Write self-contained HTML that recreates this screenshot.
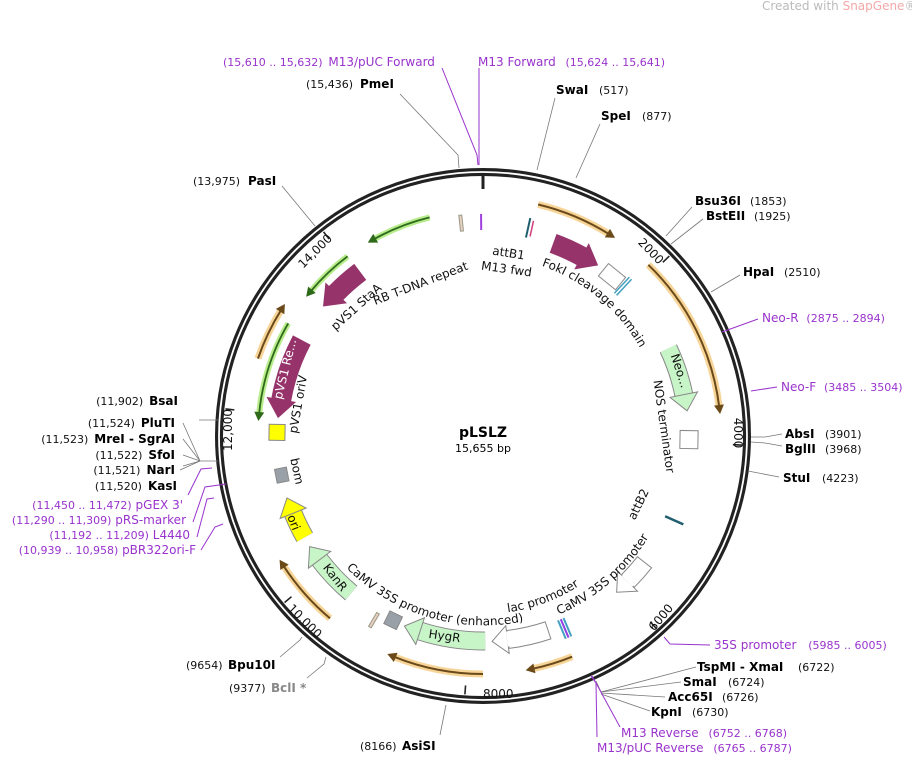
<!DOCTYPE html>
<html><head><meta charset="utf-8"><style>
html,body{margin:0;padding:0;background:#fff;}
svg{display:block;font-family:"DejaVu Sans","Liberation Sans",sans-serif;}
.n{font-size:11px;fill:#111;}
.b{font-size:12px;font-weight:bold;fill:#000;}
.p{font-size:12px;fill:#9933cc;}
.f{font-size:12px;fill:#111;}
.ln{stroke:#777;stroke-width:0.8;fill:none;}
.pl{stroke:#9933cc;stroke-width:1;fill:none;}
</style></head><body>
<svg width="912" height="757" viewBox="0 0 912 757" xmlns="http://www.w3.org/2000/svg">
<defs>
<path id="pEnh" d="M346.3,568 A194,194 0 0,0 548,614.5"/>
<path id="pCamv" d="M558.8,614.6 A194,194 0 0,0 658.8,518"/>
<path id="pLac" d="M507.8,612.3 A178,178 0 0,0 597.4,572.3"/>
<path id="pFok" d="M541.6,265.8 A180,180 0 0,1 644.8,357.1"/>
</defs>
<text x="762" y="10" font-size="12" fill="#bbb">Created with <tspan fill="#f4a8a8">SnapGene</tspan>®</text>

<!-- ring -->
<circle cx="483" cy="436" r="264" fill="none" stroke="#222" stroke-width="8"/>
<circle cx="483" cy="436" r="264" fill="none" stroke="#fff" stroke-width="1.8"/>
<line x1="483" y1="176" x2="483" y2="189" stroke="#222" stroke-width="3"/>
<g stroke="#222" stroke-width="1.6">
<line x1="483" y1="177" x2="483" y2="186" transform="rotate(46 483 436)"/>
<line x1="483" y1="177" x2="483" y2="186" transform="rotate(92 483 436)"/>
<line x1="483" y1="177" x2="483" y2="186" transform="rotate(138 483 436)"/>
<line x1="483" y1="177" x2="483" y2="186" transform="rotate(184 483 436)"/>
<line x1="483" y1="177" x2="483" y2="186" transform="rotate(230 483 436)"/>
<line x1="483" y1="177" x2="483" y2="186" transform="rotate(276 483 436)"/>
<line x1="483" y1="177" x2="483" y2="186" transform="rotate(322 483 436)"/>
</g>
<g class="f" font-size="12">
<text x="648" y="254" transform="rotate(46 648 254)" text-anchor="middle">2000</text>
<text x="734" y="433" transform="rotate(90 734 433)" text-anchor="middle">4000</text>
<text x="664" y="620" transform="rotate(-50 664 620)" text-anchor="middle">6000</text>
<text x="483" y="698">8000</text>
<text x="302" y="624" transform="rotate(45 302 624)" text-anchor="middle">10,000</text>
<text x="232" y="430" transform="rotate(-90 232 430)" text-anchor="middle">12,000</text>
<text x="318" y="254" transform="rotate(-45 318 254)" text-anchor="middle">14,000</text>
</g>

<!-- orange arcs -->
<g fill="none">
<g stroke="#f7d08c" stroke-width="7" opacity="0.9">
<circle cx="483" cy="436" r="238" stroke-dasharray="77 3000" transform="rotate(-76.6 483 436)"/>
<circle cx="483" cy="436" r="238" stroke-dasharray="162 3000" transform="rotate(-46 483 436)"/>
<circle cx="483" cy="436" r="238" stroke-dasharray="41 3000" transform="rotate(68 483 436)"/>
<circle cx="483" cy="436" r="238" stroke-dasharray="91 3000" transform="rotate(90 483 436)"/>
<circle cx="483" cy="436" r="238" stroke-dasharray="70 3000" transform="rotate(130 483 436)"/>
<circle cx="483" cy="436" r="238" stroke-dasharray="54 3000" transform="rotate(199 483 436)"/>
</g>
<g stroke="#6b4a1a" stroke-width="2">
<circle cx="483" cy="436" r="238" stroke-dasharray="77 3000" transform="rotate(-76.6 483 436)"/>
<circle cx="483" cy="436" r="238" stroke-dasharray="162 3000" transform="rotate(-46 483 436)"/>
<circle cx="483" cy="436" r="238" stroke-dasharray="41 3000" transform="rotate(68 483 436)"/>
<circle cx="483" cy="436" r="238" stroke-dasharray="91 3000" transform="rotate(90 483 436)"/>
<circle cx="483" cy="436" r="238" stroke-dasharray="70 3000" transform="rotate(130 483 436)"/>
<circle cx="483" cy="436" r="238" stroke-dasharray="54 3000" transform="rotate(199 483 436)"/>
</g>
</g>
<g fill="#6b4a1a">
<polygon points="481,193 490,198 481,203" transform="rotate(32 483 436)"/>
<polygon points="481,193 490,198 481,203" transform="rotate(83 483 436)"/>
<polygon points="481,193 490,198 481,203" transform="rotate(168 483 436)"/>
<polygon points="481,193 490,198 481,203" transform="rotate(202 483 436)"/>
<polygon points="481,193 490,198 481,203" transform="rotate(237 483 436)"/>
<polygon points="481,193 490,198 481,203" transform="rotate(302 483 436)"/>
</g>

<!-- green arcs -->
<g fill="none">
<g stroke="#b8ec8c" stroke-width="6">
<circle cx="483" cy="436" r="225" stroke-dasharray="60 3000" transform="rotate(241 483 436)"/>
<circle cx="483" cy="436" r="225" stroke-dasharray="51 3000" transform="rotate(220 483 436)"/>
<circle cx="483" cy="436" r="225" stroke-dasharray="96 3000" transform="rotate(185.6 483 436)"/>
</g>
<g stroke="#2e6a1a" stroke-width="1.8">
<circle cx="483" cy="436" r="225" stroke-dasharray="60 3000" transform="rotate(241 483 436)"/>
<circle cx="483" cy="436" r="225" stroke-dasharray="51 3000" transform="rotate(220 483 436)"/>
<circle cx="483" cy="436" r="225" stroke-dasharray="96 3000" transform="rotate(185.6 483 436)"/>
</g>
</g>
<g fill="#2e6a1a">
<polygon points="485,206 476,211 485,216" transform="rotate(331 483 436)"/>
<polygon points="485,206 476,211 485,216" transform="rotate(310 483 436)"/>
<polygon points="485,206 476,211 485,216" transform="rotate(275.6 483 436)"/>
</g>

<!-- purple block arrows -->
<g fill="none" stroke="#96336a" stroke-width="20">
<circle cx="483" cy="436" r="205" stroke-dasharray="33 3000" transform="rotate(224 483 436)"/>
<circle cx="483" cy="436" r="205" stroke-dasharray="64 3000" transform="rotate(190 483 436)"/>
<circle cx="483" cy="436" r="205" stroke-dasharray="33 3000" transform="rotate(-70 483 436)"/>
</g>
<g fill="#96336a">
<polygon points="484,216 484,246 465,231" transform="rotate(314 483 436)"/>
<polygon points="484,216 484,246 465,231" transform="rotate(280 483 436)"/>
<polygon points="482,216 482,246 501,231" transform="rotate(29 483 436)"/>
</g>

<!-- outlined arrows -->
<g fill="none">
<g stroke="#888" stroke-width="19">
<circle cx="483" cy="436" r="205" stroke-dasharray="49 3000" transform="rotate(-25.3 483 436)"/>
<circle cx="483" cy="436" r="205" stroke-dasharray="66 3000" transform="rotate(89.4 483 436)"/>
<circle cx="483" cy="436" r="205" stroke-dasharray="46 3000" transform="rotate(130 483 436)"/>
<circle cx="483" cy="436" r="205" stroke-dasharray="27 3000" transform="rotate(150.4 483 436)"/>
</g>
<circle cx="483" cy="436" r="205" stroke="#c8f5c8" stroke-width="17" stroke-dasharray="49 3000" transform="rotate(-25.3 483 436)"/>
<circle cx="483" cy="436" r="205" stroke="#c8f5c8" stroke-width="17" stroke-dasharray="66 3000" transform="rotate(89.4 483 436)"/>
<circle cx="483" cy="436" r="205" stroke="#c8f5c8" stroke-width="17" stroke-dasharray="46 3000" transform="rotate(130 483 436)"/>
<circle cx="483" cy="436" r="205" stroke="#ffff00" stroke-width="17" stroke-dasharray="27 3000" transform="rotate(150.4 483 436)"/>
</g>
<path d="M651.6,567.8 A214,214 0 0,1 634.3,587.3 L621.6,574.6 A196,196 0 0,0 637.4,556.7 Z" fill="#fff" stroke="#888" stroke-width="1"/>
<path d="M550.9,638.9 A214,214 0 0,1 509.1,648.4 L506.9,630.5 A196,196 0 0,0 545.2,621.9 Z" fill="#fff" stroke="#888" stroke-width="1"/>
<g stroke="#888" stroke-width="1">
<polygon fill="#c8f5c8" points="482.5,217 482.5,245 499,231" transform="rotate(78.5 483 436)"/>
<polygon fill="#fff" points="483.5,217 483.5,245 499,231" transform="rotate(135 483 436)"/>
<polygon fill="#fff" points="483.5,217 483.5,245 499,231" transform="rotate(173 483 436)"/>
<polygon fill="#c8f5c8" points="482.5,217 482.5,245 499,231" transform="rotate(198 483 436)"/>
<polygon fill="#c8f5c8" points="482.5,217 482.5,245 499,231" transform="rotate(233 483 436)"/>
<polygon fill="#ffff00" points="482.5,217 482.5,245 499,231" transform="rotate(248 483 436)"/>
</g>
<g fill="#fff">
<rect x="481" y="224" width="3" height="15" transform="rotate(135 483 436)"/>
<rect x="481" y="224" width="3" height="15" transform="rotate(173 483 436)"/>
</g>

<!-- boxes & small features -->
<g stroke="#888" stroke-width="1">
<rect x="472" y="223" width="22" height="16" fill="#fff" transform="rotate(39 483 436)"/>
<rect x="474" y="221" width="18" height="18" fill="#fff" transform="rotate(91 483 436)"/>
<rect x="476" y="225" width="14" height="12" fill="#9aa0a8" transform="rotate(259 483 436)"/>
<rect x="476" y="224" width="14" height="14" fill="#9aa0a8" transform="rotate(206 483 436)"/>
<rect x="475" y="222" width="16" height="16" fill="#ffff00" transform="rotate(271 483 436)"/>
<rect x="482" y="214" width="3" height="16" fill="#e8d0c0" stroke="#998" transform="rotate(354 483 436)"/>
<rect x="482" y="214" width="3" height="16" fill="#e8d0c0" stroke="#998" transform="rotate(210.5 483 436)"/>
</g>
<rect x="482" y="214" width="2" height="16" fill="#a040e0" transform="rotate(359.5 483 436)"/>
<g transform="rotate(12.5 483 436)"><rect x="481" y="213" width="2" height="20" fill="#1e5e6e"/><rect x="485" y="215" width="1.5" height="16" fill="#d04080"/></g>
<g transform="rotate(43 483 436)"><rect x="481" y="220" width="1.5" height="22" fill="#44a0c0"/><rect x="484" y="220" width="1.5" height="22" fill="#44a0c0"/></g>
<g transform="rotate(114 483 436)"><rect x="481" y="217" width="2.5" height="20" fill="#1e5e6e"/></g>
<g transform="rotate(157 483 436)"><rect x="479" y="217" width="2" height="20" fill="#44a0c0"/><rect x="482" y="217" width="2" height="20" fill="#9040e0"/><rect x="485" y="217" width="2" height="20" fill="#44a0c0"/></g>

<!-- feature labels -->
<g class="f">
<text x="422" y="287" transform="rotate(-21 422 287)" text-anchor="middle">RB T-DNA repeat</text>
<text x="359" y="310" transform="rotate(-42 359 310)" text-anchor="middle">pVS1 StaA</text>
<text x="506" y="273" transform="rotate(8 506 273)" text-anchor="middle">M13 fwd</text>
<text x="508" y="257" transform="rotate(9 508 257)" text-anchor="middle">attB1</text>
<text><textPath href="#pFok">FokI cleavage domain</textPath></text>
<text x="660" y="427" transform="rotate(82 660 427)" text-anchor="middle">NOS terminator</text>
<text x="302" y="405" transform="rotate(-80 302 405)" text-anchor="middle">pVS1 oriV</text>
<text x="293" y="472" transform="rotate(78 293 472)" text-anchor="middle">bom</text>
<text><textPath href="#pLac">lac promoter</textPath></text>
<text><textPath href="#pCamv">CaMV 35S promoter</textPath></text>
<text x="642" y="506" transform="rotate(-64 642 506)" text-anchor="middle">attB2</text>
<text><textPath href="#pEnh">CaMV 35S promoter (enhanced)</textPath></text>
<text x="444" y="640" transform="rotate(8 444 640)" text-anchor="middle">HygR</text>
<text x="332" y="580" transform="rotate(52 332 580)" text-anchor="middle">KanR</text>
<text x="290" y="524" transform="rotate(68 290 524)" text-anchor="middle">ori</text>
<text x="676" y="372" transform="rotate(72 676 372)" text-anchor="middle">Neo...</text>
<text x="289" y="370" transform="rotate(-76 289 370)" text-anchor="middle" fill="#fff">pVS1 Re...</text>
</g>

<text x="483" y="437" text-anchor="middle" font-size="14" font-weight="bold">pLSLZ</text>
<text x="483" y="452" text-anchor="middle" font-size="11">15,655 bp</text>

<!-- leader lines -->
<g class="ln">
<polyline points="400,94 458,155 459,168"/>
<line x1="555" y1="98" x2="537" y2="170"/>
<line x1="600" y1="124" x2="576" y2="178"/>
<line x1="692" y1="207" x2="666" y2="236"/>
<line x1="703" y1="219" x2="671" y2="244"/>
<line x1="740" y1="275" x2="711" y2="292"/>
<polyline points="782,434 765,437 751,437"/>
<polyline points="782,446 765,443 751,442"/>
<line x1="779" y1="477" x2="748" y2="471"/>
<polyline points="696,667 601,692 596,681"/>
<line x1="681" y1="682" x2="601" y2="692"/>
<line x1="665" y1="697" x2="601" y2="693"/>
<line x1="650" y1="711" x2="601" y2="694"/>
<line x1="440" y1="735" x2="446" y2="705"/>
<polyline points="280,657 300,640 302,637"/>
<polyline points="307,678 324,664 326,657"/>
<line x1="282" y1="186" x2="315" y2="226"/>
<polyline points="199,420 213,420 218,420"/>
<polyline points="183,423 200,461 218,461"/>
<line x1="183" y1="439" x2="200" y2="461"/>
<line x1="183" y1="455" x2="200" y2="461"/>
<line x1="183" y1="466" x2="200" y2="461"/>
<line x1="180" y1="470" x2="200" y2="461"/>
</g>
<g class="pl">
<polyline points="442,68 477,155 478,165"/>
<line x1="479" y1="68" x2="479" y2="165"/>
<polyline points="758,319 722,332"/>
<polyline points="777,387 751,391"/>
<polyline points="710,645 670,644 664,637"/>
<polyline points="620,727 596,683 591,676"/>
<polyline points="597,737 596,683 592,676"/>
<polyline points="188,495 201,469 212,468"/>
<polyline points="193,522 205,487 226,484"/>
<polyline points="197,537 207,499 214,498"/>
<polyline points="201,550 215,527 223,524"/>
</g>

<!-- outer labels -->
<text x="306" y="88" class="n">(15,436)</text><text x="360" y="88" class="b">PmeI</text>
<text x="556" y="94" class="b">SwaI</text><text x="599" y="94" class="n">(517)</text>
<text x="601" y="120" class="b">SpeI</text><text x="642" y="120" class="n">(877)</text>
<text x="695" y="205" class="b">Bsu36I</text><text x="750" y="205" class="n">(1853)</text>
<text x="706" y="220" class="b">BstEII</text><text x="754" y="220" class="n">(1925)</text>
<text x="743" y="276" class="b">HpaI</text><text x="784" y="276" class="n">(2510)</text>
<text x="762" y="322" class="p">Neo-R <tspan font-size="11" dx="4">(2875 .. 2894)</tspan></text>
<text x="781" y="391" class="p">Neo-F <tspan font-size="11" dx="4">(3485 .. 3504)</tspan></text>
<text x="785" y="438" class="b">AbsI</text><text x="825" y="438" class="n">(3901)</text>
<text x="785" y="453" class="b">BglII</text><text x="825" y="453" class="n">(3968)</text>
<text x="783" y="482" class="b">StuI</text><text x="822" y="482" class="n">(4223)</text>
<text x="714" y="649" class="p">35S promoter <tspan font-size="11" dx="8">(5985 .. 6005)</tspan></text>
<text x="697" y="671" class="b">TspMI - XmaI</text><text x="798" y="671" class="n">(6722)</text>
<text x="683" y="686" class="b">SmaI</text><text x="728" y="686" class="n">(6724)</text>
<text x="668" y="701" class="b">Acc65I</text><text x="722" y="701" class="n">(6726)</text>
<text x="651" y="716" class="b">KpnI</text><text x="692" y="716" class="n">(6730)</text>
<text x="621" y="737" class="p">M13 Reverse <tspan font-size="11" dx="6">(6752 .. 6768)</tspan></text>
<text x="597" y="752" class="p">M13/pUC Reverse <tspan font-size="11" dx="6">(6765 .. 6787)</tspan></text>
<text x="360" y="750" class="n">(8166)</text><text x="402" y="750" class="b">AsiSI</text>
<text x="186" y="669" class="n">(9654)</text><text x="228" y="669" class="b">Bpu10I</text>
<text x="229" y="692" class="n">(9377)</text><text x="271" y="692" class="b" style="fill:#888">BclI *</text>
<text x="193" y="185" class="n">(13,975)</text><text x="248" y="185" class="b">PasI</text>
<text x="223" y="66" class="p"><tspan font-size="11">(15,610 .. 15,632)</tspan> <tspan dx="2">M13/pUC Forward</tspan></text>
<text x="478" y="66" class="p">M13 Forward <tspan font-size="11" dx="6">(15,624 .. 15,641)</tspan></text>

<g text-anchor="end">
<text x="178" y="405"><tspan class="n">(11,902)</tspan><tspan class="b" dx="6">BsaI</tspan></text>
<text x="175" y="427"><tspan class="n">(11,524)</tspan><tspan class="b" dx="6">PluTI</tspan></text>
<text x="175" y="443"><tspan class="n">(11,523)</tspan><tspan class="b" dx="6">MreI  - SgrAI</tspan></text>
<text x="175" y="459"><tspan class="n">(11,522)</tspan><tspan class="b" dx="6">SfoI</tspan></text>
<text x="175" y="474"><tspan class="n">(11,521)</tspan><tspan class="b" dx="6">NarI</tspan></text>
<text x="177" y="490"><tspan class="n">(11,520)</tspan><tspan class="b" dx="6">KasI</tspan></text>
<text x="183" y="509" class="p"><tspan font-size="11">(11,450 .. 11,472)</tspan> pGEX 3'</text>
<text x="186" y="524" class="p"><tspan font-size="11">(11,290 .. 11,309)</tspan> pRS-marker</text>
<text x="190" y="539" class="p"><tspan font-size="11">(11,192 .. 11,209)</tspan> L4440</text>
<text x="196" y="554" class="p"><tspan font-size="11">(10,939 .. 10,958)</tspan> pBR322ori-F</text>
</g>
</svg>
</body></html>
